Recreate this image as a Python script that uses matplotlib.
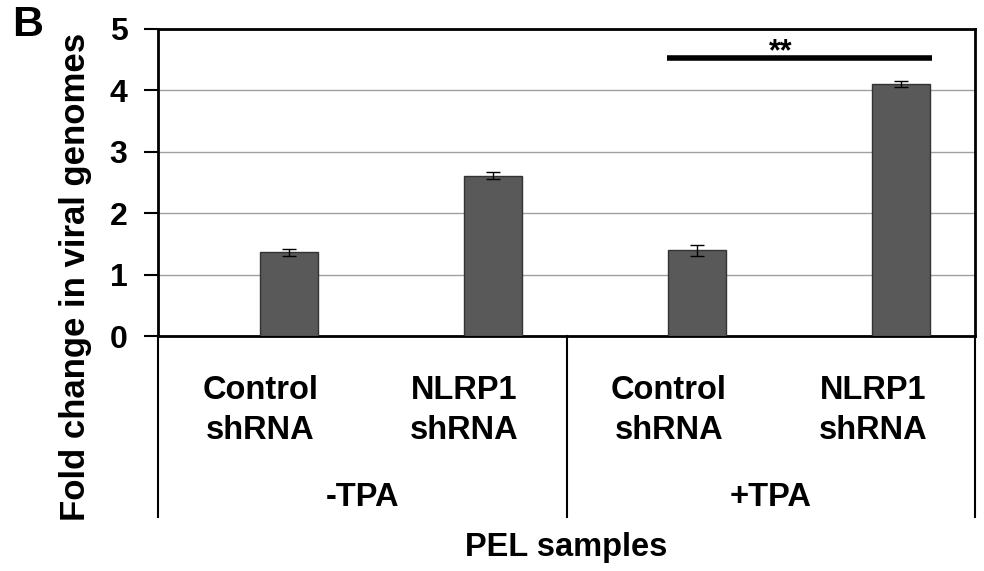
import numpy as np
import matplotlib
matplotlib.use("Agg")
import matplotlib.pyplot as plt

plt.rcParams["font.family"] = ["Liberation Sans", "DejaVu Sans"]
plt.rcParams["font.weight"] = "bold"

# ---- data ----
conditions = ["-TPA", "+TPA"]
samples = ["Control\nshRNA", "NLRP1\nshRNA", "Control\nshRNA", "NLRP1\nshRNA"]
fold_change = [1.36, 2.61, 1.40, 4.10]
fold_err = [0.065, 0.055, 0.09, 0.05]
sig_from, sig_to, sig_y, sig_label = 2.49, 3.79, 4.52, "**"

BAR = "#595959"

fig = plt.figure(figsize=(9.84, 5.71), dpi=100)
ax = fig.add_axes([158 / 984, 1 - 336 / 571, 817 / 984, 307 / 571])

slots = np.arange(len(samples)) + 0.5          # category centres
xbar = slots + 0.14                            # bars sit right of centre
ax.bar(xbar, fold_change, width=0.284, color=BAR, edgecolor="#333333",
       lw=1.0, zorder=3)
ax.errorbar(xbar, fold_change, yerr=fold_err, fmt="none", ecolor="k",
            elinewidth=1.0, capsize=5, capthick=1.0, zorder=4)

ax.set_xlim(0, len(samples))
ax.set_ylim(0, 5)
ax.set_yticks(range(6))
ax.set_xticks([])
ax.yaxis.grid(True, color="#a0a0a0", lw=1.0, zorder=0)
ax.tick_params(axis="y", length=10, width=1.5, pad=12, labelsize=23)
for s in ax.spines.values():
    s.set_linewidth(2.0)

# significance bar
ax.plot([sig_from, sig_to], [sig_y, sig_y], color="k", lw=4,
        solid_capstyle="butt", zorder=5)
ax.text((sig_from + sig_to) / 2 - 0.09, sig_y - 0.14, sig_label,
        ha="center", va="bottom", fontsize=22, fontweight="bold")

# category area under the axes
trans = ax.get_xaxis_transform()
for xv in [0, 2, 4]:
    ax.plot([xv, xv], [0, -0.59], color="k", lw=1.5, transform=trans,
            clip_on=False)
for xc, lab in zip(slots, samples):
    ax.text(xc, -0.243, lab, ha="center", va="center", fontsize=23.5,
            fontweight="bold", linespacing=1.4, transform=trans)
for i, cond in enumerate(conditions):
    ax.text(2 * i + 1, -0.525, cond, ha="center", va="center", fontsize=23.5,
            fontweight="bold", transform=trans)
ax.text(2, -0.69, "PEL samples", ha="center", va="center", fontsize=23.5,
        fontweight="bold", transform=trans)

fig.text(76 / 984, 1 - 277 / 571, "Fold change in viral genomes",
         rotation=90, ha="center", va="center", fontsize=25, fontweight="bold")
fig.text(28 / 984, 1 - 25 / 571, "B", ha="center", va="center",
         fontsize=31, fontweight="bold")

fig.savefig("out.png", dpi=100)
